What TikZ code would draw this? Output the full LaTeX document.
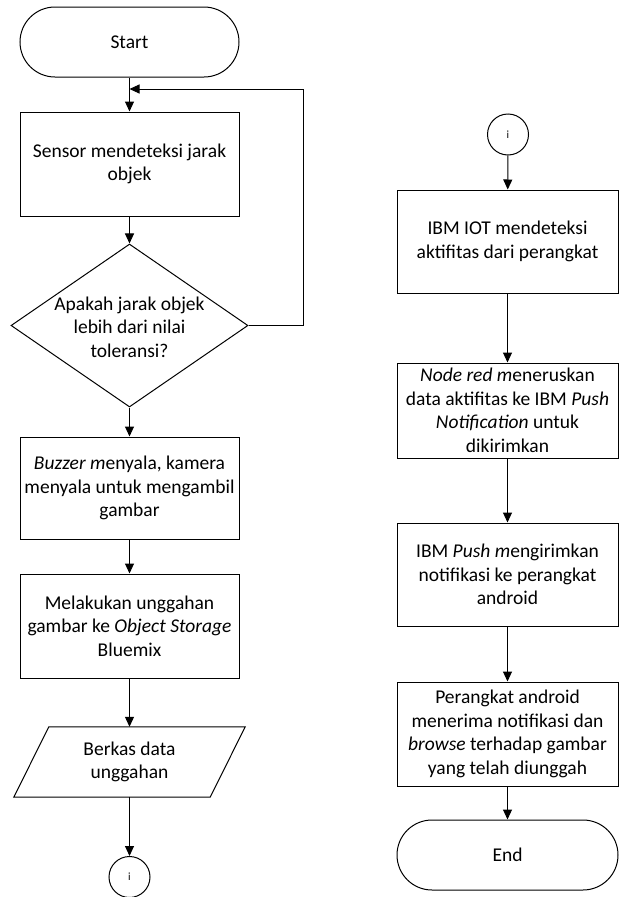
\documentclass[tikz,border=0pt]{standalone}
\usepackage{fontspec}
\setmainfont{Carlito}
\usetikzlibrary{arrows.meta,shapes.geometric}
\begin{document}
\begin{tikzpicture}[x=1pt,y=-1pt,
  txt/.style={font=\fontsize{19.5}{23.5}\selectfont, align=center},
  proc/.style={txt, draw, line width=1pt, minimum width=219pt, inner sep=0pt},
  term/.style={proc, rounded corners=35pt, minimum height=70pt},
  conn/.style={circle, draw, line width=1pt, minimum size=41pt, inner sep=0pt, font=\fontsize{11}{13}\selectfont},
  arr/.style={-{Triangle[length=10pt,width=9pt]}, line width=1pt}
]
\useasboundingbox (0,0) rectangle (619,897);
% left column
\node[term] (start) at (129.5,42) {Start};
\node[proc, minimum height=104pt] (box1) at (129.5,164) {Sensor mendeteksi jarak\\objek};
\node[diamond, draw, line width=1pt, minimum width=237pt, minimum height=163pt, inner sep=0pt] (dia) at (129.5,325.5) {};
\node[txt] (diatext) at (129.5,327) {Apakah jarak objek\\lebih dari nilai\\toleransi?};
\node[proc, minimum height=102pt] (box3) at (129.5,488) {\textit{Buzzer m}enyala, kamera\\menyala untuk mengambil\\gambar};
\node[proc, minimum height=104pt] (box4) at (129.5,626) {Melakukan unggahan\\gambar ke \textit{Object Storage}\\Bluemix};
\node[txt, minimum width=196pt, minimum height=70pt, inner sep=0pt] (par) at (129.5,762) {Berkas data\\unggahan};
\draw[line width=1pt] ([xshift=17.5pt]par.north west) -- ([xshift=17.5pt]par.north east) -- ([xshift=-17.5pt]par.south east) -- ([xshift=-17.5pt]par.south west) -- cycle;
\node[conn] (c1) at (129.5,877) {i};
\coordinate (join) at (129.5,89);
\draw[arr] (start) -- (box1);
\draw[arr] (box1) -- (dia);
\draw[arr] (dia) -- (box3);
\draw[arr] (box3) -- (box4);
\draw[arr] (box4) -- (par.north);
\draw[arr] (par.south) -- (c1);
\draw[arr] (dia.east) -- ++(55,0) |- (join);
% right column
\node[conn] (c2) at (508,134.5) {i};
\node[proc, minimum width=221pt, minimum height=103pt] (r1) at (507.5,241.5) {IBM IOT mendeteksi\\aktifitas dari perangkat};
\node[proc, minimum width=221pt, minimum height=95pt] (r2) at (507.5,410.5) {\textit{Node red m}eneruskan\\data aktifitas ke IBM \textit{Push}\\\textit{Notification} untuk\\dikirimkan};
\node[proc, minimum width=221pt, minimum height=103pt] (r3) at (507.5,574.5) {IBM \textit{Push m}engirimkan\\notifikasi ke perangkat\\android};
\node[proc, minimum width=221pt, minimum height=104pt] (r4) at (507.5,734) {Perangkat android\\menerima notifikasi dan\\\textit{browse} terhadap gambar\\yang telah diunggah};
\node[term, minimum width=221pt] (end) at (507.5,855) {End};
\draw[arr] (c2) -- (r1);
\draw[arr] (r1) -- (r2);
\draw[arr] (r2) -- (r3);
\draw[arr] (r3) -- (r4);
\draw[arr] (r4) -- (end);
\end{tikzpicture}
\end{document}
